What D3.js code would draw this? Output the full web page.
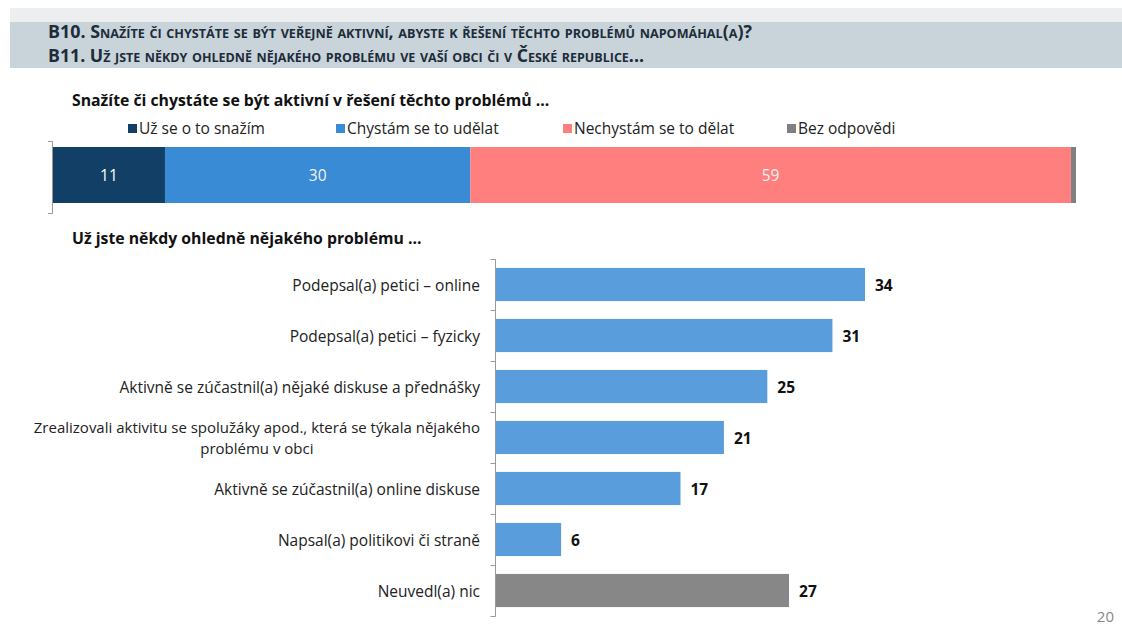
<!DOCTYPE html>
<html>
<head>
<meta charset="utf-8">
<script src="https://cdn.jsdelivr.net/npm/d3@7"></script>
<style>
  body { margin: 0; background: #fff; }
  svg { display: block; font-family: "Open Sans", sans-serif; }
</style>
</head>
<body>
<svg width="1122" height="629"></svg>
<script>
var svg = d3.select("svg");

// stacked bar (B10)
var stackKeys = ["Už se o to snažím", "Chystám se to udělat", "Nechystám se to dělat", "Bez odpovědi"];
var stackValues = [11, 30, 59, 0.5];
var stackColors = ["#123f66", "#3a8bd6", "#ff7f7f", "#808080"];

// horizontal bars (B11)
var categories = [
  "Podepsal(a) petici – online",
  "Podepsal(a) petici – fyzicky",
  "Aktivně se zúčastnil(a) nějaké diskuse a přednášky",
  "Zrealizovali aktivitu se spolužáky apod., která se týkala nějakého|problému v obci",
  "Aktivně se zúčastnil(a) online diskuse",
  "Napsal(a) politikovi či straně",
  "Neuvedl(a) nic"
];
var barValues = [34, 31, 25, 21, 17, 6, 27];

var fs = "15.5px";

// header band
svg.append("rect").attr("x", 10).attr("y", 8).attr("width", 1112).attr("height", 14).attr("fill", "#eceeef");
svg.append("rect").attr("x", 10).attr("y", 22).attr("width", 1112).attr("height", 46).attr("fill", "#c8d4d9");

var headers = [
  {t: "B10. Snažíte či chystáte se být veřejně aktivní, abyste k řešení těchto problémů napomáhal(a)?", y: 38, w: 704},
  {t: "B11. Už jste někdy ohledně nějakého problému ve vaší obci či v České republice...", y: 62, w: 596}
];
svg.selectAll(".hdr").data(headers).enter().append("text")
  .attr("class", "hdr")
  .attr("x", 48).attr("y", function(d) { return d.y; })
  .attr("textLength", function(d) { return d.w; })
  .attr("lengthAdjust", "spacingAndGlyphs")
  .style("font-variant", "small-caps")
  .style("font-weight", "bold")
  .style("font-size", "17px")
  .attr("fill", "#1d2b3a")
  .text(function(d) { return d.t; });

// section titles
svg.append("text").attr("x", 72).attr("y", 106)
  .style("font-weight", "bold").style("font-size", "15.8px").attr("fill", "#111")
  .text("Snažíte či chystáte se být aktivní v řešení těchto problémů …");
svg.append("text").attr("x", 72).attr("y", 244)
  .style("font-weight", "bold").style("font-size", "15.8px").attr("fill", "#111")
  .text("Už jste někdy ohledně nějakého problému …");

// legend
var legendX = [128, 336, 563, 787];
var legend = svg.selectAll(".leg").data(stackKeys).enter().append("g")
  .attr("class", "leg")
  .attr("transform", function(d, i) { return "translate(" + legendX[i] + ",124)"; });
legend.append("rect").attr("width", 9).attr("height", 9).attr("fill", function(d, i) { return stackColors[i]; });
legend.append("text").attr("x", 11).attr("y", 10)
  .style("font-size", fs).attr("fill", "#222")
  .text(function(d) { return d; });

// stacked bar
var total = d3.sum(stackValues);
var xs = d3.scaleLinear().domain([0, total]).range([53, 1076]);
var cum = 0;
var segs = stackValues.map(function(v, i) { var s = {v: v, i: i, x0: cum, x1: cum + v}; cum += v; return s; });

svg.selectAll(".seg").data(segs).enter().append("rect")
  .attr("class", "seg")
  .attr("x", function(d) { return xs(d.x0); })
  .attr("width", function(d) { return xs(d.x1) - xs(d.x0); })
  .attr("y", 147).attr("height", 56)
  .attr("fill", function(d) { return stackColors[d.i]; });

svg.selectAll(".segl").data(segs.filter(function(d) { return d.v >= 5; })).enter().append("text")
  .attr("class", "segl")
  .attr("x", function(d) { return (xs(d.x0) + xs(d.x1)) / 2; })
  .attr("y", 181)
  .attr("text-anchor", "middle")
  .style("font-size", fs)
  .attr("fill", function(d) { return d.i === 0 ? "#fff" : "#f3f3f3"; })
  .text(function(d) { return d.v; });

svg.append("path").attr("d", "M48,141.5H52.5V213.5H48").attr("fill", "none").attr("stroke", "#999");

// bottom bars
var x = d3.scaleLinear().domain([0, 34]).range([496, 865]);
var y = d3.scaleBand().domain(categories).range([259, 616]).paddingInner(0.35).paddingOuter(0.175);

svg.selectAll(".bar").data(categories).enter().append("rect")
  .attr("class", "bar")
  .attr("x", x(0))
  .attr("y", function(d) { return y(d); })
  .attr("height", y.bandwidth())
  .attr("width", function(d, i) { return x(barValues[i]) - x(0); })
  .attr("fill", function(d, i) { return i === categories.length - 1 ? "#878787" : "#5a9ddc"; });

svg.selectAll(".val").data(categories).enter().append("text")
  .attr("class", "val")
  .attr("x", function(d, i) { return x(barValues[i]) + 10; })
  .attr("y", function(d) { return y(d) + y.bandwidth() / 2 + 6; })
  .style("font-size", fs).style("font-weight", "bold").attr("fill", "#111")
  .text(function(d, i) { return barValues[i]; });

// category labels
var step = y.step();
var labels = svg.selectAll(".cat").data(categories).enter().append("g").attr("class", "cat");
labels.each(function(d) {
  var lines = d.split("|");
  var g = d3.select(this);
  var cy = y(d) + y.bandwidth() / 2 + 6;
  if (lines.length === 1) {
    g.append("text").attr("x", 480).attr("y", cy).attr("text-anchor", "end")
      .style("font-size", fs).attr("fill", "#222").text(lines[0]);
  } else {
    var t1 = g.append("text").attr("x", 480).attr("y", cy - 10.5).attr("text-anchor", "end")
      .style("font-size", "15px").attr("fill", "#222").text(lines[0]);
    var w = t1.node().getComputedTextLength();
    g.append("text").attr("x", 480 - w / 2).attr("y", cy + 10).attr("text-anchor", "middle")
      .style("font-size", "15px").attr("fill", "#222").text(lines[1]);
  }
});

// axis with ticks between categories
var axisX = 495.5;
var tickYs = d3.range(categories.length + 1).map(function(i) { return Math.round(259 + i * step) + 0.5; });
svg.append("line").attr("x1", axisX).attr("x2", axisX).attr("y1", tickYs[0]).attr("y2", tickYs[tickYs.length - 1]).attr("stroke", "#999");
svg.selectAll(".tk").data(tickYs).enter().append("line")
  .attr("x1", axisX - 5).attr("x2", axisX).attr("y1", function(d) { return d; }).attr("y2", function(d) { return d; })
  .attr("stroke", "#999");

// page number
svg.append("text").attr("x", 1114).attr("y", 622).attr("text-anchor", "end")
  .style("font-size", "15px").attr("fill", "#888").text("20");
</script>
</body>
</html>
